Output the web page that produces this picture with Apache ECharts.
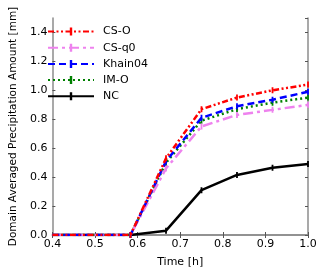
<!DOCTYPE html>
<html><head><meta charset="utf-8">
<script src="https://cdn.jsdelivr.net/npm/echarts@6/dist/echarts.min.js"></script>
<style>html,body{margin:0;padding:0;background:#fff}#c{width:320px;height:273px}</style>
</head><body><div id="c"></div>
<script>
var times = [0.4, 0.5, 0.5833, 0.6667, 0.75, 0.8333, 0.9167, 1.0];
var csO     = [0, 0, 0, 0.53, 0.87, 0.95, 1.00, 1.04];
var csQ0    = [0, 0, 0, 0.46, 0.75, 0.83, 0.865, 0.90];
var khain04 = [0, 0, 0, 0.51, 0.81, 0.89, 0.935, 0.99];
var imO     = [0, 0, 0, 0.50, 0.79, 0.87, 0.915, 0.95];
var nc      = [0, 0, 0, 0.03, 0.31, 0.415, 0.465, 0.49];
var names = ['CS-O', 'CS-q0', 'Khain04', 'IM-O', 'NC'];
var firstMarked = 2; // markers start at 0.5833 h

var BAR = 'path://M0,0L10,0L10,0.01L0,0.01Z M3.5,0L6.5,0L6.5,10L3.5,10Z';
function pairs(v){
  return times.map(function(t,i){
    return i < firstMarked ? {value: [t, v[i]], symbol: 'none'} : [t, v[i]];
  });
}
var FONT = 'DejaVu Sans';
var frame = '#8c8c8c';
function mk(name, vals, color, type, z){
  return {
    name: name, type: 'line', data: pairs(vals), z: z,
    symbol: BAR, symbolSize: 6, showSymbol: true,
    itemStyle: {color: color, borderWidth: 0},
    lineStyle: {color: color, width: 2.5, type: type},
    emphasis: {disabled: true}, animation: false, clip: true
  };
}
var chart = echarts.init(document.getElementById('c'), null, {renderer: 'canvas'});
chart.setOption({
  animation: false,
  grid: {left: 39, top: 18, width: 269, height: 224, containLabel: false},
  legend: {
    left: 42, top: 21, orient: 'vertical', itemGap: 5.2, itemWidth: 46, itemHeight: 10,
    itemStyle: {borderWidth: 0},
    textStyle: {fontFamily: FONT, fontSize: 11, color: '#000', padding: [0, 0, 0, 4]},
    data: names
  },
  xAxis: [{
    type: 'value', min: 0.4, max: 1.0, interval: 0.1,
    name: 'Time [h]', nameLocation: 'middle', nameGap: 22,
    nameTextStyle: {fontFamily: FONT, fontSize: 11, color: '#000'},
    axisLine: {show: true, lineStyle: {color: frame, width: 1.5}},
    axisTick: {show: true, inside: true, length: 3, lineStyle: {color: '#555'}},
    axisLabel: {fontFamily: FONT, fontSize: 11, color: '#000', margin: 4,
      formatter: function(v){ return v.toFixed(1); }},
    splitLine: {show: false}
  }, {
    type: 'value', position: 'top', min: 0.4, max: 1.0, interval: 0.1,
    axisLine: {show: true, lineStyle: {color: frame, width: 1.5}},
    axisTick: {show: true, inside: true, length: 3, lineStyle: {color: '#555'}},
    axisLabel: {show: false}, splitLine: {show: false}
  }],
  yAxis: [{
    type: 'value', min: 0, max: 1.5, interval: 0.2,
    name: 'Domain Averaged Precipitation Amount [mm]', nameLocation: 'middle', nameGap: 30,
    nameTextStyle: {fontFamily: FONT, fontSize: 10.5, color: '#000'},
    axisLine: {show: true, lineStyle: {color: frame, width: 1.5}},
    axisTick: {show: true, inside: true, length: 3, lineStyle: {color: '#555'}},
    axisLabel: {fontFamily: FONT, fontSize: 11, color: '#000', margin: 5, showMaxLabel: false,
      formatter: function(v){ return v.toFixed(1); }},
    splitLine: {show: false}
  }, {
    type: 'value', position: 'right', min: 0, max: 1.5, interval: 0.2,
    axisLine: {show: true, lineStyle: {color: frame, width: 1.5}},
    axisTick: {show: true, inside: true, length: 3, lineStyle: {color: '#555'}},
    axisLabel: {show: false}, splitLine: {show: false}
  }],
  series: [
    mk('NC', nc, '#000000', 'solid', 2),
    mk('IM-O', imO, '#008000', [2, 3], 3),
    mk('Khain04', khain04, '#0000ff', [7, 4], 4),
    mk('CS-q0', csQ0, '#ee82ee', [10, 4, 3, 4], 3),
    mk('CS-O', csO, '#ff0000', [6, 2.5, 2, 2.5, 2, 2.5], 5)
  ]
});
</script></body></html>
